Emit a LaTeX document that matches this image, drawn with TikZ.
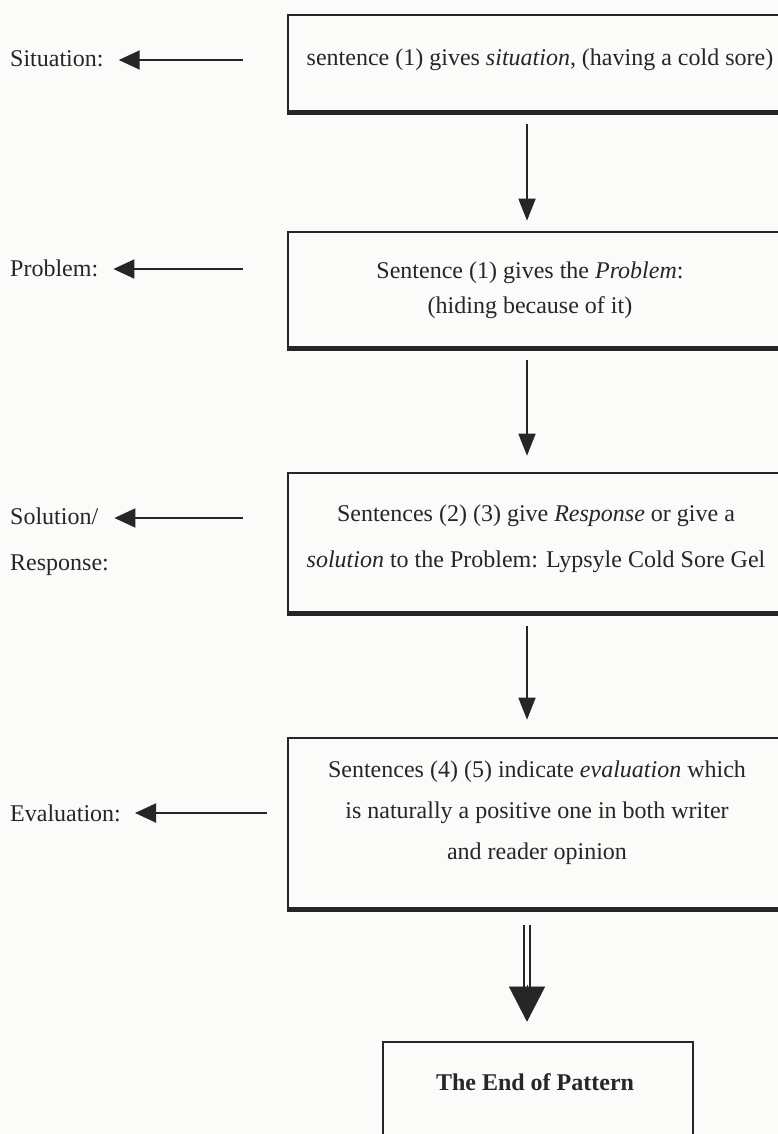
\documentclass[tikz,border=0pt]{standalone}
\usepackage{fontspec}
\setmainfont{Liberation Serif}
\usetikzlibrary{arrows.meta}
\definecolor{ink}{HTML}{262626}
\definecolor{paper}{HTML}{FBFBF9}
\tikzset{
  boxshape/.style={draw=ink, line width=2.6pt, inner sep=0pt, rectangle},
  boxtext/.style={text=ink, align=center, inner sep=0pt, font=\fontsize{24}{24}\selectfont},
  labtext/.style={text=ink, inner sep=0pt, font=\fontsize{24}{24}\selectfont},
  larrow/.style={draw=ink, line width=2pt, -{Triangle[length=21pt,width=19pt]}},
  darrow/.style={draw=ink, line width=1.6pt, -{Triangle[length=22pt,width=17pt]}},
}
\begin{document}
\begin{tikzpicture}[x=1pt,y=-1pt]
\useasboundingbox (0,0) rectangle (778,1134);
\clip (0,0) rectangle (778,1134);
\fill[paper] (0,0) rectangle (778,1134);

% boxes
\node[boxshape, minimum width=494pt, minimum height=96pt]  (b1) at (535,63) {};
\node[boxshape, minimum width=494pt, minimum height=115pt] (b2) at (535,289.5) {};
\node[boxshape, minimum width=494pt, minimum height=139pt] (b3) at (535,542.5) {};
\node[boxshape, minimum width=494pt, minimum height=170pt] (b4) at (535,823) {};
\node[boxshape, minimum width=310pt, minimum height=140pt] (b5) at (538,1112) {};
\foreach \b in {b1,b2,b3,b4}
  \draw[ink, line width=4.6pt] (\b.south west) -- (\b.south east);

% box texts
\node[boxtext] (t1) at (540,60) {sentence (1) gives \textit{situation}, (having a cold sore)};
\node[boxtext, font=\fontsize{24}{35}\selectfont] (t2) at (530,290)
  {Sentence (1) gives the \textit{Problem}:\\(hiding because of it)};
\node[boxtext, font=\fontsize{24}{46}\selectfont] (t3) at (536,539)
  {Sentences (2) (3) give \textit{Response} or give a\\\textit{solution} to the Problem: Lypsyle Cold Sore Gel};
\node[boxtext, font=\fontsize{24}{41}\selectfont] (t4) at (537,813)
  {Sentences (4) (5) indicate \textit{evaluation} which\\is naturally a positive one in both writer\\and reader opinion};
\node[boxtext] (t5) at (535,1082) {\textbf{The End of Pattern}};

% left labels
\node[labtext, anchor=base west] (l1) at (10,67) {Situation:};
\node[labtext, anchor=base west] (l2) at (10,276) {Problem:};
\node[labtext, anchor=base west] (l3) at (10,524) {Solution/};
\node[labtext, anchor=base west] (l3b) at (10,570) {Response:};
\node[labtext, anchor=base west] (l4) at (10,821) {Evaluation:};

\coordinate (s1) at (243,60);
\coordinate (s2) at (243,269);
\coordinate (s3) at (243,518);
\coordinate (s4) at (267,813);
\draw[larrow, shorten >=15pt] (s1) -- (s1 -| l1.east);
\draw[larrow, shorten >=15pt] (s2) -- (s2 -| l2.east);
\draw[larrow, shorten >=16pt] (s3) -- (s3 -| l3.east);
\draw[larrow, shorten >=14pt] (s4) -- (s4 -| l4.east);

% down arrows
\coordinate (ax) at (527,0);
\draw[darrow, shorten <=12pt, shorten >=10pt] (ax |- b1.south) -- (ax |- b2.north);
\draw[darrow, shorten <=12pt, shorten >=16pt] (ax |- b2.south) -- (ax |- b3.north);
\draw[darrow, shorten <=13pt, shorten >=17pt] (ax |- b3.south) -- (ax |- b4.north);

% double arrow
\draw[ink, line width=2pt, double=paper, double distance=3.6pt, shorten <=16pt, shorten >=52pt]
  (ax |- b4.south) -- (ax |- b5.north);
\draw[ink, line width=0.5pt, -{Triangle[length=35pt,width=36pt]}]
  ([yshift=56pt]ax |- b5.north) -- ([yshift=19pt]ax |- b5.north);
\end{tikzpicture}
\end{document}
